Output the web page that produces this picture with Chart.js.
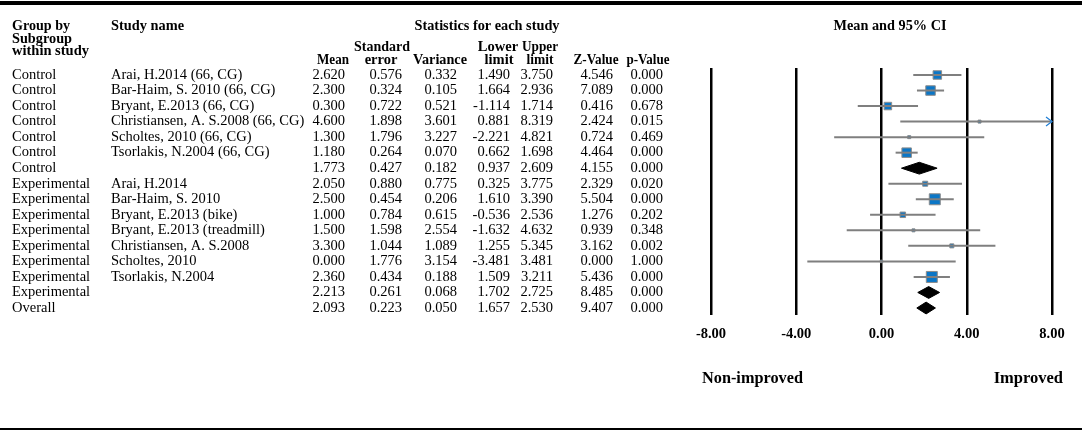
<!DOCTYPE html>
<html>
<head>
<meta charset="utf-8">
<script src="https://cdn.jsdelivr.net/npm/chart.js@4.4.1/dist/chart.umd.min.js"></script>
<style>
  html, body { margin: 0; padding: 0; background: #fff; }
  #forest { display: block; }
</style>
</head>
<body>
<canvas id="forest" width="1084" height="433"></canvas>
<script>
// one entry per row, top to bottom
var groups = ['Control', 'Control', 'Control', 'Control', 'Control', 'Control', 'Control',
  'Experimental', 'Experimental', 'Experimental', 'Experimental', 'Experimental', 'Experimental',
  'Experimental', 'Experimental', 'Overall'];
var studies = ['Arai, H.2014 (66, CG)', 'Bar-Haim, S. 2010 (66, CG)', 'Bryant, E.2013 (66, CG)',
  'Christiansen, A. S.2008 (66, CG)', 'Scholtes, 2010 (66, CG)', 'Tsorlakis, N.2004 (66, CG)', '',
  'Arai, H.2014', 'Bar-Haim, S. 2010', 'Bryant, E.2013 (bike)', 'Bryant, E.2013 (treadmill)',
  'Christiansen, A. S.2008', 'Scholtes, 2010', 'Tsorlakis, N.2004', '', ''];
var means = [2.620, 2.300, 0.300, 4.600, 1.300, 1.180, 1.773, 2.050, 2.500, 1.000, 1.500, 3.300, 0.000, 2.360, 2.213, 2.093];
var stdErrors = [0.576, 0.324, 0.722, 1.898, 1.796, 0.264, 0.427, 0.880, 0.454, 0.784, 1.598, 1.044, 1.776, 0.434, 0.261, 0.223];
var variances = [0.332, 0.105, 0.521, 3.601, 3.227, 0.070, 0.182, 0.775, 0.206, 0.615, 2.554, 1.089, 3.154, 0.188, 0.068, 0.050];
var lowers = [1.490, 1.664, -1.114, 0.881, -2.221, 0.662, 0.937, 0.325, 1.610, -0.536, -1.632, 1.255, -3.481, 1.509, 1.702, 1.657];
var uppers = [3.750, 2.936, 1.714, 8.319, 4.821, 1.698, 2.609, 3.775, 3.390, 2.536, 4.632, 5.345, 3.481, 3.211, 2.725, 2.530];
var zValues = [4.546, 7.089, 0.416, 2.424, 0.724, 4.464, 4.155, 2.329, 5.504, 1.276, 0.939, 3.162, 0.000, 5.436, 8.485, 9.407];
var pValues = [0.000, 0.000, 0.678, 0.015, 0.469, 0.000, 0.000, 0.020, 0.000, 0.202, 0.348, 0.002, 1.000, 0.000, 0.000, 0.000];
var xTicks = [-8, -4, 0, 4, 8];

// box side in px for each study row (weight markers)
var boxSides = [8.5, 9.5, 7.5, 3, 3, 9.5, 0, 5, 11, 5.5, 3, 4, 2.5, 11, 0, 0];

var SERIF = '"Liberation Serif", "Times New Roman", serif';
var FS = 14.5;

var datasets = [];
var boxes = [];
var radii = [];
for (var i = 0; i < means.length; i++) {
  if (studies[i] !== '') {
    // CI whisker
    datasets.push({
      type: 'scatter',
      showLine: true,
      data: [{ x: lowers[i], y: i }, { x: uppers[i], y: i }],
      borderColor: '#7f7f7f',
      borderWidth: 2,
      pointRadius: 0
    });
    boxes.push({ x: means[i], y: i });
    radii.push(boxSides[i] / Math.SQRT2);
  } else {
    // summary diamond
    datasets.push({
      type: 'scatter',
      showLine: true,
      data: [
        { x: lowers[i], y: i },
        { x: means[i], y: i - 0.38 },
        { x: uppers[i], y: i },
        { x: means[i], y: i + 0.38 },
        { x: lowers[i], y: i }
      ],
      borderColor: '#000',
      backgroundColor: '#000',
      borderWidth: 1,
      fill: 'shape',
      tension: 0,
      pointRadius: 0
    });
  }
}
datasets.push({
  type: 'scatter',
  data: boxes,
  pointStyle: 'rect',
  pointRadius: radii,
  backgroundColor: '#0b76c6',
  borderColor: '#8c8c8c',
  borderWidth: 1
});

function fmt(v) { return v.toFixed(3); }

var tablePlugin = {
  id: 'forestTable',
  beforeDraw: function (chart) {
    var ctx = chart.ctx;
    var y = chart.scales.y;
    ctx.save();
    ctx.fillStyle = '#fff';
    ctx.fillRect(0, 0, chart.width, chart.height);

    // top and bottom rules
    ctx.fillStyle = '#000';
    ctx.fillRect(0, 1, 1082, 4);
    ctx.fillRect(0, 428, 1082, 2);

    // headers
    ctx.textBaseline = 'alphabetic';
    ctx.font = 'bold 14.5px ' + SERIF;
    ctx.textAlign = 'left';
    ctx.fillText('Group by', 12, 30, 58);
    ctx.fillText('Subgroup', 12, 42.5, 60);
    ctx.fillText('within study', 12, 55, 78);
    ctx.fillText('Study name', 111, 30, 73);
    ctx.textAlign = 'center';
    ctx.fillText('Statistics for each study', 487, 30, 145);
    ctx.fillText('Standard', 382, 51, 56);
    ctx.fillText('error', 381, 63.5, 34);
    ctx.fillText('Variance', 440, 63.5, 54);
    ctx.fillText('Lower', 498, 51, 43);
    ctx.fillText('limit', 499, 63.5, 29);
    ctx.fillText('Upper', 540, 51, 36);
    ctx.fillText('limit', 540, 63.5, 27);
    ctx.fillText('Z-Value', 596, 63.5, 45);
    ctx.fillText('p-Value', 648, 63.5, 43);
    ctx.fillText('Mean and 95% CI', 890, 30, 113);
    ctx.textAlign = 'right';
    ctx.fillText('Mean', 349, 63.5, 32);

    ctx.font = 'bold 16.5px ' + SERIF;
    ctx.textAlign = 'left';
    ctx.fillText('Non-improved', 702, 383, 101);
    ctx.textAlign = 'right';
    ctx.fillText('Improved', 1063, 383, 70);

    // rows
    ctx.textBaseline = 'middle';
    ctx.font = FS + 'px ' + SERIF;
    for (var i = 0; i < means.length; i++) {
      var py = y.getPixelForValue(i);
      ctx.textAlign = 'left';
      ctx.fillText(groups[i], 12, py);
      ctx.fillText(studies[i], 111, py);
      ctx.textAlign = 'right';
      ctx.fillText(fmt(means[i]), 345, py);
      ctx.fillText(fmt(stdErrors[i]), 402, py);
      ctx.fillText(fmt(variances[i]), 457, py);
      ctx.fillText(fmt(lowers[i]), 510, py);
      ctx.fillText(fmt(uppers[i]), 553, py);
      ctx.fillText(fmt(zValues[i]), 613, py);
      ctx.fillText(fmt(pValues[i]), 663, py);
    }
    ctx.restore();
  },
  afterDatasetsDraw: function (chart) {
    // arrow where a CI runs past the axis
    var ctx = chart.ctx;
    var x = chart.scales.x, y = chart.scales.y;
    ctx.save();
    ctx.strokeStyle = '#1f7fd6';
    ctx.lineWidth = 1.2;
    for (var i = 0; i < uppers.length; i++) {
      if (uppers[i] > x.max) {
        var px = x.getPixelForValue(x.max), py = y.getPixelForValue(i);
        ctx.beginPath();
        ctx.moveTo(px - 6, py - 4.5);
        ctx.lineTo(px, py);
        ctx.lineTo(px - 6, py + 4.5);
        ctx.stroke();
      }
    }
    ctx.restore();
  }
};

var chart = new Chart(document.getElementById('forest'), {
  type: 'scatter',
  data: { datasets: datasets },
  options: {
    responsive: false,
    animation: false,
    devicePixelRatio: 1,
    layout: { padding: { left: 711, right: 32, top: 68, bottom: 88 } },
    plugins: {
      legend: { display: false },
      tooltip: { enabled: false }
    },
    scales: {
      x: {
        type: 'linear',
        min: -8,
        max: 8,
        afterBuildTicks: function (scale) {
          scale.ticks = xTicks.map(function (v) { return { value: v }; });
        },
        afterFit: function (scale) { scale.height = 30; },
        grid: { color: '#000', lineWidth: 2.5, drawTicks: false },
        border: { display: false },
        ticks: {
          padding: 11,
          color: '#000',
          font: { family: SERIF, size: FS, weight: 'bold' },
          callback: function (v) { return v.toFixed(2); }
        }
      },
      y: {
        type: 'linear',
        display: false,
        reverse: true,
        min: -0.45,
        max: 15.45
      }
    }
  },
  plugins: [tablePlugin]
});
</script>
</body>
</html>
